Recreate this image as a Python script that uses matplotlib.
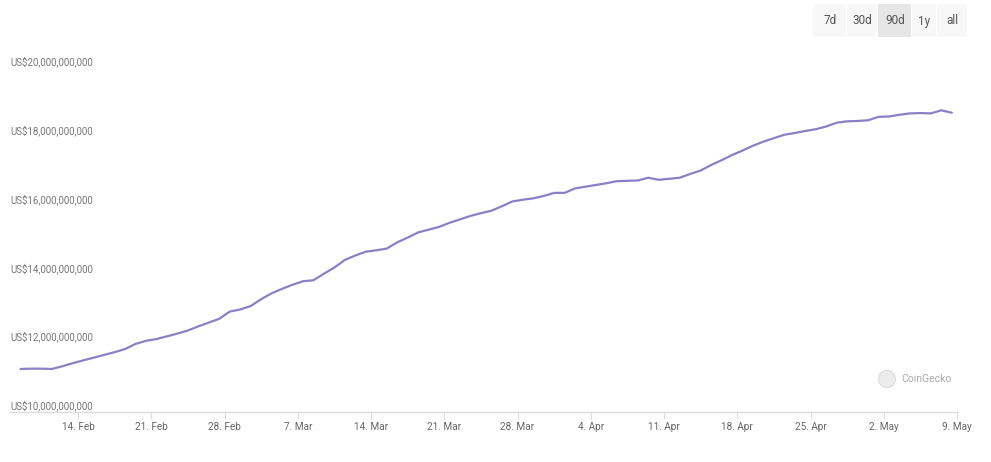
import matplotlib
matplotlib.use("Agg")
import matplotlib.pyplot as plt
import matplotlib.dates as mdates
import matplotlib.transforms as mtransforms
from matplotlib.patches import Rectangle, Ellipse
import pandas as pd

# market cap, billions of USD, one point per day
dates = pd.date_range("2021-02-08 12:00", periods=90, freq="D")
market_cap = [
    11.25, 11.26, 11.26, 11.25, 11.33, 11.42, 11.50, 11.58, 11.66, 11.74,
    11.83, 11.98, 12.07, 12.12, 12.20, 12.28, 12.37, 12.49, 12.60, 12.71,
    12.92, 12.98, 13.08, 13.28, 13.45, 13.58, 13.70, 13.80, 13.83, 14.02,
    14.20, 14.42, 14.55, 14.66, 14.70, 14.75, 14.93, 15.07, 15.22, 15.30,
    15.38, 15.50, 15.60, 15.70, 15.78, 15.85, 15.98, 16.12, 16.17, 16.21,
    16.28, 16.37, 16.37, 16.50, 16.55, 16.60, 16.65, 16.71, 16.72, 16.73,
    16.81, 16.75, 16.78, 16.81, 16.92, 17.02, 17.18, 17.32, 17.47, 17.60,
    17.74, 17.86, 17.96, 18.06, 18.11, 18.17, 18.22, 18.30, 18.41, 18.45,
    18.46, 18.48, 18.58, 18.59, 18.64, 18.68, 18.69, 18.68, 18.77, 18.70,
]
y_ticks = [10, 12, 14, 16, 18, 20]
y_labels = ["US$10,000,000,000", "US$12,000,000,000", "US$14,000,000,000",
            "US$16,000,000,000", "US$18,000,000,000", "US$20,000,000,000"]
x_ticks = pd.date_range("2021-02-14", "2021-05-09", freq="7D")
ranges = ["7d", "30d", "90d", "1y", "all"]
selected_range = "90d"

W, H = 991, 462
plt.rcParams["font.family"] = ["Roboto", "DejaVu Sans"]
fig = plt.figure(figsize=(W / 100, H / 100), dpi=100)
ax = fig.add_axes([10 / W, 1 - 412 / H, (957 - 10) / W, (412 - 68) / H])

ax.plot(dates, market_cap, color="#8b80c6", lw=1.6, solid_capstyle="round")
ax.set_xlim(pd.Timestamp("2021-02-07 12:00"), pd.Timestamp("2021-05-09"))
ax.set_ylim(10, 20)

for s in ["top", "right", "left"]:
    ax.spines[s].set_visible(False)
ax.spines["bottom"].set_color("#dcdcdc")
ax.spines["bottom"].set_linewidth(1)

ax.set_xticks(x_ticks)
ax.xaxis.set_major_formatter(mdates.DateFormatter("%-d. %b"))
ax.tick_params(axis="x", length=5, color="#dcdcdc", labelsize=7.2,
               labelcolor="#666666", pad=2)
ax.set_yticks([])

# y labels sit left-aligned just above their value
trans = mtransforms.blended_transform_factory(fig.transFigure, ax.transData)
trans = mtransforms.offset_copy(trans, fig=fig, x=0, y=6, units="dots")
for v, lab in zip(y_ticks, y_labels):
    ax.text(10 / W, v, lab, transform=trans, ha="left", va="center",
            fontsize=7, color="#777777", clip_on=False)

# range selector buttons
edges = [813, 847, 878, 912, 937, 968]
for i, r in enumerate(ranges):
    x0, x1 = edges[i], edges[i + 1]
    bg = "#e6e6e6" if r == selected_range else "#f8f8f8"
    fig.add_artist(Rectangle((x0 / W, 1 - 37 / H), (x1 - x0 - 1) / W, 33 / H,
                             transform=fig.transFigure, facecolor=bg,
                             edgecolor="none"))
    fig.text((x0 + x1) / 2 / W, 1 - 21 / H, r, ha="center", va="center",
             fontsize=8.5, color="#555555")

# watermark
fig.add_artist(Ellipse((887 / W, 1 - 379 / H), 17 / W, 17 / H,
                       transform=fig.transFigure, facecolor="#ececec",
                       edgecolor="#dddddd", lw=0.8))
fig.text(901 / W, 1 - 379 / H, "CoinGecko", ha="left", va="center",
         fontsize=7.5, color="#aaaaaa")

fig.savefig("out.png", dpi=100, facecolor="white")
